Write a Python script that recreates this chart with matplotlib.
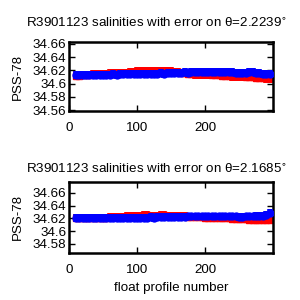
import matplotlib
matplotlib.use("Agg")
import matplotlib.pyplot as plt
from matplotlib.ticker import FuncFormatter

profiles = list(range(10, 300, 5))

red_top = [34.612,34.612,34.613,34.613,34.613,34.614,34.614,34.614,34.614,
           34.614,34.615,34.615,34.615,34.616,34.616,34.616,34.617,34.617,34.618,
           34.618,34.618,34.619,34.618,34.619,34.619,34.619,34.619,34.618,34.618,
           34.617,34.617,34.616,34.616,34.615,34.615,34.614,34.614,34.614,34.614,
           34.614,34.613,34.613,34.613,34.612,34.612,34.612,34.611,34.611,34.611,
           34.611,34.610,34.610,34.610,34.609,34.609,34.609,34.608,34.608]
blue_top = [34.613,34.613,34.613,34.613,34.613,34.613,34.613,34.613,34.613,
            34.613,34.613,34.614,34.613,34.614,34.614,34.614,34.614,34.615,34.614,
            34.614,34.615,34.615,34.615,34.615,34.615,34.616,34.615,34.616,34.616,
            34.616,34.616,34.616,34.617,34.616,34.617,34.617,34.617,34.617,34.617,
            34.617,34.617,34.617,34.617,34.617,34.617,34.617,34.617,34.616,34.616,
            34.616,34.616,34.617,34.617,34.616,34.616,34.615,34.615,34.615]
red_bot = [34.620,34.620,34.620,34.621,34.621,34.621,34.621,34.621,34.621,
           34.621,34.622,34.622,34.622,34.622,34.622,34.623,34.623,34.624,34.624,
           34.624,34.625,34.625,34.624,34.624,34.624,34.625,34.625,34.624,34.624,
           34.624,34.623,34.623,34.623,34.622,34.622,34.622,34.622,34.622,34.621,
           34.621,34.621,34.621,34.620,34.620,34.620,34.620,34.619,34.619,34.619,
           34.619,34.619,34.618,34.618,34.618,34.618,34.617,34.617,34.617]
blue_bot = [34.620,34.620,34.620,34.620,34.620,34.620,34.620,34.620,34.621,
            34.620,34.621,34.621,34.621,34.621,34.621,34.621,34.621,34.621,34.621,
            34.621,34.621,34.621,34.622,34.621,34.622,34.622,34.622,34.622,34.622,
            34.622,34.622,34.622,34.622,34.623,34.623,34.623,34.623,34.623,34.623,
            34.623,34.623,34.623,34.623,34.623,34.623,34.623,34.623,34.623,34.622,
            34.622,34.623,34.623,34.623,34.624,34.624,34.624,34.625,34.628]
red_err = 0.0065
blue_err = 0.006

thetas = ["2.2239", "2.1685"]
yticks_top = [34.56, 34.58, 34.60, 34.62, 34.64, 34.66]
yticks_bot = [34.58, 34.60, 34.62, 34.64, 34.66]
xticks = [0, 100, 200]

plt.rcParams['font.family'] = ['Liberation Sans', 'DejaVu Sans']
fig = plt.figure(figsize=(3, 3), dpi=100)
ax1 = fig.add_axes([0.23, 0.63, 0.68, 0.23])
ax2 = fig.add_axes([0.23, 0.157, 0.68, 0.237])

fs = 9.6
for ax, red, blue, th, yt, ylim, tpad in [
        (ax1, red_top, blue_top, thetas[0], yticks_top, (34.5585, 34.663), 11),
        (ax2, red_bot, blue_bot, thetas[1], yticks_bot, (34.566, 34.677), 6.5)]:
    ax.errorbar(profiles, red, yerr=red_err, fmt='s', color='red', ms=4,
                elinewidth=4, capsize=0, zorder=2)
    ax.errorbar(profiles, blue, yerr=blue_err, fmt='o', color='blue', ms=5,
                elinewidth=4, capsize=0, zorder=3)
    ax.set_xlim(0, 300)
    ax.set_ylim(*ylim)
    ax.set_yticks(yt)
    ax.set_xticks(xticks)
    ax.yaxis.set_major_formatter(FuncFormatter(lambda v, p: '%g' % round(v, 2)))
    ax.tick_params(direction='in', length=4, width=1, top=True, right=True,
                   labelsize=fs)
    ax.tick_params(axis='y', pad=2)
    ax.tick_params(axis='x', pad=8)
    for s in ax.spines.values():
        s.set_linewidth(1.8)
    ax.set_ylabel('PSS-78', fontsize=fs, labelpad=6)
    ax.set_title('R3901123 salinities with error on \u03b8=' + th + r'$^{\circ}$',
                 fontsize=fs, pad=tpad, x=0.43)

ax2.set_xlabel('float profile number', fontsize=fs, labelpad=4)
fig.savefig('out.png', dpi=100)
